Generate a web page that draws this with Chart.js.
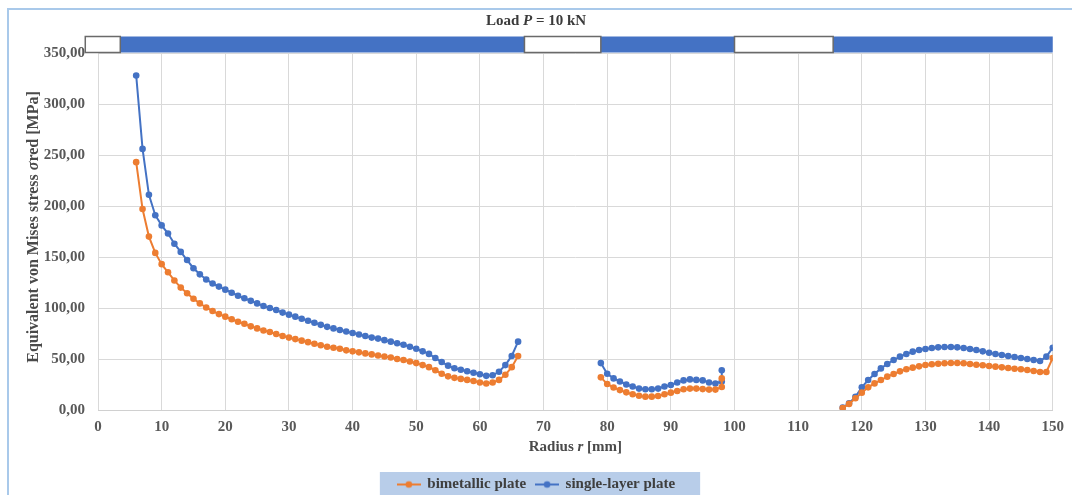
<!DOCTYPE html>
<html>
<head>
<meta charset="utf-8">
<title>Load P = 10 kN</title>
<script src="https://cdn.jsdelivr.net/npm/chart.js@4.4.1/dist/chart.umd.min.js"></script>
<style>
  body { margin: 0; background: #fff; }
  #frame { position: absolute; left: 7px; top: 8px; width: 1065px; height: 487px;
           border-top: 2px solid #a9c9ea; border-left: 2px solid #a9c9ea; box-sizing: border-box; }
  #myChart { position: absolute; left: 0; top: 0; }
</style>
</head>
<body>
<div id="frame"></div>
<canvas id="myChart" width="1072" height="495"></canvas>
<script>
/* data */

const radiusInner = [6, 7, 8, 9, 10, 11, 12, 13, 14, 15, 16, 17, 18, 19, 20, 21, 22, 23, 24, 25,
    26, 27, 28, 29, 30, 31, 32, 33, 34, 35, 36, 37, 38, 39, 40, 41, 42, 43, 44, 45,
    46, 47, 48, 49, 50, 51, 52, 53, 54, 55, 56, 57, 58, 59, 60, 61, 62, 63, 64, 65, 66];
const radiusMiddle = [79, 80, 81, 82, 83, 84, 85, 86, 87, 88, 89, 90, 91, 92, 93, 94, 95, 96, 97, 98, 98];
const radiusOuter = [117, 118, 119, 120, 121, 122, 123, 124, 125, 126, 127, 128, 129, 130, 131, 132, 133,
    134, 135, 136, 137, 138, 139, 140, 141, 142, 143, 144, 145, 146, 147, 148, 149, 150];

const bimetallicInner = [243, 197, 170, 154, 143, 135, 127, 120, 114.5, 109,
    104.5, 100.5, 97, 94, 91.5, 89, 86.5, 84.5, 82, 80,
    78, 76.5, 74.5, 72.5, 71, 69.5, 68, 66.5, 65, 63.5,
    62, 61, 60, 58.5, 57.5, 56.5, 55.5, 54.5, 53.5, 52.5,
    51.5, 50, 49, 47.5, 46, 44, 42, 39, 35.5, 33,
    31.5, 30.5, 29.5, 28.5, 27, 26, 27, 29.5, 34.5, 42, 53];
const bimetallicMiddle = [32, 25.5, 22, 19.5, 17.3, 15.4, 14, 13.1, 13.1, 13.7,
    15.4, 17, 18.6, 20.3, 21, 21, 20.5, 20, 20, 22.5, 31];
const bimetallicOuter = [2, 6, 11.5, 17, 22.2, 26.1, 29.4, 32.7, 35.3, 37.9,
    39.9, 41.5, 42.8, 44.1, 44.8, 45.4, 45.8, 46.1, 46.1, 45.8,
    45.1, 44.4, 43.8, 43.1, 42.5, 41.8, 41.2, 40.5, 39.9, 39.2, 38.2, 37.3, 37.3, 51];

const singleInner = [328, 256, 211, 191, 181, 173, 163, 155, 147, 139,
    133, 128, 124, 121, 118, 115, 112, 109.5, 107, 104.5,
    102, 100, 98, 95.5, 93.5, 91.5, 89.5, 87.5, 85.5, 83.5,
    81.5, 80, 78.5, 77, 75.5, 74, 72.5, 71, 70, 68.5,
    67, 65.5, 64, 62, 60, 57.5, 55, 51, 47, 43.5,
    41, 39.5, 38, 36.5, 35, 33.5, 34, 37.5, 44, 53, 67];
const singleMiddle = [46, 35.5, 31, 28, 25, 23, 21, 20.3, 20.3, 21,
    23, 24.5, 27, 29, 30, 29.5, 29, 27, 26, 28, 39];
const singleOuter = [2.3, 6.5, 13, 22.2, 29.4, 35.3, 40.8, 45.1, 49, 52.3,
    54.9, 57.2, 58.8, 59.8, 60.8, 61.4, 61.7, 61.7, 61.4, 60.8,
    59.8, 58.8, 57.5, 56.2, 54.9, 53.9, 52.9, 52, 51, 50, 49, 48, 52.3, 61.1];

// plate zones along the radius (steel = blue, gap = white)
const plateZones = [[-2, 3.5, 'gap'], [3.5, 67, 'steel'], [67, 79, 'gap'],
    [79, 100, 'steel'], [100, 115.5, 'gap'], [115.5, 150, 'steel']];

const xTickStep = 10;
const yTickStep = 50;

const titleParts = [['Load ', false], ['P', true], [' = 10 kN', false]];
const xTitleParts = [['Radius ', false], ['r', true], [' [mm]', false]];
const yTitleParts = [['Equivalent von Mises stress ', false], ['σ', true], ['red [MPa]', false]];

/* helpers */

function joinSegments(xs, ys) {
    let out = [];
    xs.forEach(function(seg, i) {
        if (i > 0) {
            out.push({ x: (xs[i - 1][xs[i - 1].length - 1] + seg[0]) / 2, y: null });
        }
        seg.forEach(function(x, j) { out.push({ x: x, y: ys[i][j] }); });
    });
    return out;
}

function legendMarker(color) {
    const c = document.createElement('canvas');
    c.width = 24; c.height = 10;
    const g = c.getContext('2d');
    g.strokeStyle = color; g.lineWidth = 2;
    g.beginPath(); g.moveTo(0, 5); g.lineTo(24, 5); g.stroke();
    g.fillStyle = color;
    g.beginPath(); g.arc(12, 5, 3.3, 0, Math.PI * 2); g.fill();
    return c;
}

function fontFor(size, italic) {
    return (italic ? 'italic ' : '') + 'bold ' + size + 'px "Liberation Serif", serif';
}

function drawRich(ctx, parts, x, y, size) {
    let total = 0;
    parts.forEach(function(p) { ctx.font = fontFor(size, p[1]); total += ctx.measureText(p[0]).width; });
    let cx = x - total / 2;
    parts.forEach(function(p) {
        ctx.font = fontFor(size, p[1]);
        ctx.fillText(p[0], cx, y);
        cx += ctx.measureText(p[0]).width;
    });
}

/* plugins */

const legendBox = {
    id: 'legendBox',
    beforeDraw(chart) {
        const lg = chart.legend;
        if (!lg || !lg.legendHitBoxes.length) return;
        const boxes = lg.legendHitBoxes;
        const left = boxes[0].left - 18;
        const last = boxes[boxes.length - 1];
        const right = last.left + last.width + 25;
        const ctx = chart.ctx;
        ctx.save();
        ctx.fillStyle = '#b8cde9';
        ctx.fillRect(left, 472, right - left, chart.height - 472);
        ctx.restore();
    }
};

const plateBar = {
    id: 'plateBar',
    afterDatasetsDraw(chart) {
        const ctx = chart.ctx;
        const x = chart.scales.x, y = chart.scales.y;
        const bottom = y.getPixelForValue(350) - 0.5;
        const top = bottom - 16;
        ctx.save();
        plateZones.forEach(function(z) {
            const l = x.getPixelForValue(z[0]);
            const r = x.getPixelForValue(z[1]);
            ctx.fillStyle = z[2] === 'steel' ? '#4472c4' : '#ffffff';
            ctx.fillRect(l, top, r - l, bottom - top);
        });
        plateZones.forEach(function(z) {
            if (z[2] === 'steel') return;
            const l = x.getPixelForValue(z[0]);
            const r = x.getPixelForValue(z[1]);
            ctx.strokeStyle = '#6a6a6a';
            ctx.lineWidth = 1.5;
            ctx.strokeRect(l, top, r - l, bottom - top);
        });
        ctx.restore();
    }
};

const richTitles = {
    id: 'richTitles',
    afterDraw(chart) {
        const ctx = chart.ctx;
        const area = chart.chartArea;
        ctx.save();
        ctx.textBaseline = 'middle';
        ctx.textAlign = 'left';
        ctx.fillStyle = '#3b3b3b';
        drawRich(ctx, titleParts, chart.width / 2, 21, 15);
        ctx.fillStyle = '#4a4a4a';
        drawRich(ctx, xTitleParts, (area.left + area.right) / 2, 447, 15);
        ctx.translate(34, 227);
        ctx.rotate(-Math.PI / 2);
        drawRich(ctx, yTitleParts, 0, 0, 16);
        ctx.restore();
    }
};

/* chart */

Chart.defaults.font.family = '"Liberation Serif", serif';

const ctx = document.getElementById('myChart').getContext('2d');

const chart = new Chart(ctx, {
    type: 'line',
    data: {
        datasets: [{
            label: 'bimetallic plate',
            data: joinSegments([radiusInner, radiusMiddle, radiusOuter],
                               [bimetallicInner, bimetallicMiddle, bimetallicOuter]),
            borderColor: '#ed7d31',
            backgroundColor: '#ed7d31',
            borderWidth: 2,
            pointRadius: 3.3,
            pointBorderWidth: 0,
            pointBackgroundColor: '#ed7d31',
            tension: 0
        },
        {
            label: 'single-layer plate',
            data: joinSegments([radiusInner, radiusMiddle, radiusOuter],
                               [singleInner, singleMiddle, singleOuter]),
            borderColor: '#4472c4',
            backgroundColor: '#4472c4',
            borderWidth: 2,
            pointRadius: 3.3,
            pointBorderWidth: 0,
            pointBackgroundColor: '#4472c4',
            tension: 0
        }]
    },
    options: {
        responsive: false,
        animation: false,
        layout: { padding: { left: 20, right: 19, top: 53, bottom: -7 } },
        plugins: {
            title: { display: false },
            tooltip: { enabled: false },
            legend: {
                position: 'bottom',
                labels: {
                    usePointStyle: true,
                    pointStyleWidth: 22,
                    padding: 10,
                    color: '#3e3e3e',
                    font: { size: 15, weight: 'bold' },
                    generateLabels: function(chart) {
                        return chart.data.datasets.map(function(ds, i) {
                            return {
                                text: ds.label,
                                pointStyle: legendMarker(ds.borderColor),
                                fillStyle: ds.borderColor,
                                strokeStyle: 'rgba(0,0,0,0)',
                                lineWidth: 0,
                                fontColor: '#3e3e3e',
                                hidden: false,
                                datasetIndex: i
                            };
                        });
                    }
                }
            }
        },
        scales: {
            x: {
                type: 'linear',
                min: 0,
                max: 150,
                ticks: { stepSize: xTickStep, color: '#595959', font: { size: 15, weight: 'bold' }, padding: 8 },
                grid: { color: '#d9d9d9', drawTicks: false },
                border: { color: '#d0d0d0' },
                afterFit: function(scale) {
                    const lh = scale.chart.legend ? scale.chart.legend.height : 35;
                    scale.height = 502 - 410 - lh;
                }
            },
            y: {
                min: 0,
                max: 350,
                ticks: {
                    stepSize: yTickStep,
                    color: '#595959',
                    font: { size: 15, weight: 'bold' },
                    padding: 13,
                    callback: function(v) { return v.toFixed(2).replace('.', ','); }
                },
                grid: { color: '#d9d9d9', drawTicks: false },
                border: { display: false },
                afterFit: function(scale) { scale.width = 78; }
            }
        }
    },
    plugins: [legendBox, plateBar, richTitles]
});
</script>
</body>
</html>
